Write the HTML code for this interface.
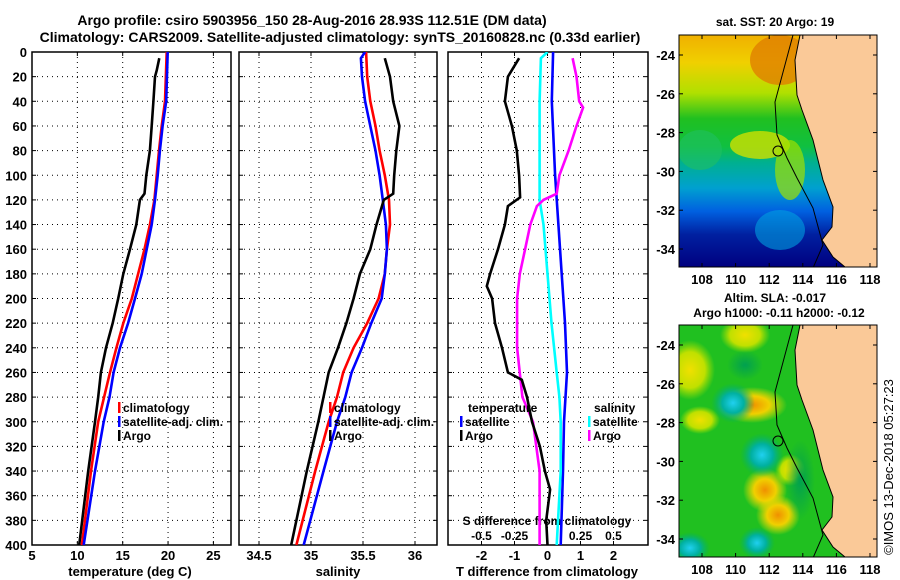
<!DOCTYPE html>
<html><head><meta charset="utf-8">
<style>
html,body{margin:0;padding:0;background:#fff;}
svg{display:block;font-family:"Liberation Sans",sans-serif;font-weight:bold;}
</style></head>
<body>
<svg id="chart" width="900" height="580" viewBox="0 0 900 580" xmlns="http://www.w3.org/2000/svg">
<defs>
<linearGradient id="sstgrad" x1="0" y1="0" x2="0" y2="1">
<stop offset="0" stop-color="#f0b000"/>
<stop offset="0.12" stop-color="#f0d000"/>
<stop offset="0.25" stop-color="#b0e000"/>
<stop offset="0.36" stop-color="#20c020"/>
<stop offset="0.48" stop-color="#10c040"/>
<stop offset="0.55" stop-color="#00b090"/>
<stop offset="0.66" stop-color="#00a0d0"/>
<stop offset="0.76" stop-color="#0060e0"/>
<stop offset="0.86" stop-color="#0020a0"/>
<stop offset="1" stop-color="#000080"/>
</linearGradient>
<radialGradient id="gOr"><stop offset="0" stop-color="#f09000"/><stop offset="0.5" stop-color="#f0d000"/><stop offset="1" stop-color="#f0e000" stop-opacity="0"/></radialGradient>
<radialGradient id="gYe"><stop offset="0" stop-color="#f0e000"/><stop offset="0.6" stop-color="#c0e000"/><stop offset="1" stop-color="#a0e000" stop-opacity="0"/></radialGradient>
<radialGradient id="gCy"><stop offset="0" stop-color="#20d0f0"/><stop offset="0.5" stop-color="#00b0a0"/><stop offset="1" stop-color="#00b060" stop-opacity="0"/></radialGradient>
<radialGradient id="gDg"><stop offset="0" stop-color="#00a050"/><stop offset="1" stop-color="#00a050" stop-opacity="0"/></radialGradient>
<clipPath id="c1"><rect x="32" y="52" width="199" height="493"/></clipPath>
<clipPath id="c2"><rect x="239" y="52" width="198" height="493"/></clipPath>
<clipPath id="c3"><rect x="448" y="52" width="200" height="493"/></clipPath>
<clipPath id="cm1"><rect x="679" y="35" width="198" height="232"/></clipPath>
<clipPath id="cm2"><rect x="679" y="325" width="198" height="232"/></clipPath>
</defs>

<text x="312" y="25" font-size="14" text-anchor="middle">Argo profile: csiro 5903956_150 28-Aug-2016 28.93S 112.51E (DM data)</text>
<text x="340" y="42" font-size="14" text-anchor="middle">Climatology: CARS2009. Satellite-adjusted climatology: synTS_20160828.nc (0.33d earlier)</text>

<g id="maps">
<g clip-path="url(#cm1)">
<rect x="679" y="35" width="198" height="232" fill="url(#sstgrad)"/>
<ellipse cx="780" cy="60" rx="30" ry="25" fill="#e08000" opacity="0.8"/>
<ellipse cx="760" cy="145" rx="30" ry="14" fill="#d0e000" opacity="0.8"/>
<ellipse cx="790" cy="170" rx="15" ry="30" fill="#a0e000" opacity="0.7"/>
<ellipse cx="700" cy="150" rx="22" ry="20" fill="#20c060" opacity="0.6"/>
<ellipse cx="780" cy="230" rx="25" ry="20" fill="#00a0e0" opacity="0.6"/>
<polygon fill="#fac998" points="800,35 795,60 797,95 802,110 813,140 823,180 833,207 832,227 822,240 833,257 845,267 877,267 877,35"/>
<polyline fill="none" stroke="#000" stroke-width="1" points="793,35 775,102 777,135 787,158 797,178 813,208 823,245 813,268"/>
<polyline fill="none" stroke="#000" stroke-width="1" points="800,35 795,60 797,95 802,110 813,140 823,180 833,207 832,227 822,240 833,257 845,267"/>
<circle cx="778" cy="151" r="5" fill="none" stroke="#000" stroke-width="1"/>
</g>
<rect x="679" y="35" width="198" height="232" fill="none" stroke="#000" stroke-width="1"/>
<text x="775" y="26" font-size="12" text-anchor="middle">sat. SST: 20 Argo: 19</text>

<g clip-path="url(#cm2)">
<rect x="679" y="325" width="198" height="232" fill="#20c020"/>
<ellipse cx="690" cy="370" rx="25" ry="30" fill="url(#gYe)"/>
<ellipse cx="745" cy="335" rx="25" ry="18" fill="url(#gYe)"/>
<ellipse cx="752" cy="405" rx="35" ry="18" fill="url(#gOr)"/>
<ellipse cx="700" cy="420" rx="20" ry="14" fill="url(#gYe)"/>
<ellipse cx="790" cy="470" rx="15" ry="16" fill="url(#gYe)"/>
<ellipse cx="765" cy="490" rx="22" ry="22" fill="url(#gOr)"/>
<ellipse cx="778" cy="515" rx="22" ry="20" fill="url(#gOr)"/>
<ellipse cx="733" cy="403" rx="22" ry="20" fill="url(#gCy)"/>
<ellipse cx="762" cy="455" rx="22" ry="22" fill="url(#gCy)"/>
<ellipse cx="757" cy="543" rx="18" ry="16" fill="url(#gCy)"/>
<ellipse cx="690" cy="548" rx="20" ry="16" fill="url(#gCy)"/>
<ellipse cx="800" cy="480" rx="15" ry="40" fill="url(#gDg)"/>
<ellipse cx="745" cy="365" rx="18" ry="15" fill="url(#gDg)"/>
<polygon fill="#fac998" points="800,325 795,350 797,385 802,400 813,430 823,470 833,497 832,517 822,530 833,547 845,557 877,557 877,325"/>
<polyline fill="none" stroke="#000" stroke-width="1" points="793,325 775,392 777,425 787,448 797,468 813,498 823,535 813,558"/>
<polyline fill="none" stroke="#000" stroke-width="1" points="800,325 795,350 797,385 802,400 813,430 823,470 833,497 832,517 822,530 833,547 845,557"/>
<circle cx="778" cy="441" r="5" fill="none" stroke="#000" stroke-width="1"/>
</g>
<rect x="679" y="325" width="198" height="232" fill="none" stroke="#000" stroke-width="1"/>
<text x="775" y="302" font-size="12" text-anchor="middle">Altim. SLA: -0.017</text>
<text x="779" y="317" font-size="12" text-anchor="middle">Argo h1000: -0.11 h2000: -0.12</text>
<text font-size="13" font-weight="normal" text-anchor="middle" transform="translate(893,467) rotate(-90)">©IMOS 13-Dec-2018 05:27:23</text>
</g>
<g id="dyn"></g>
</svg>
<script>
// ---------- data ----------
const depthTicks=[0,20,40,60,80,100,120,140,160,180,200,220,240,260,280,300,320,340,360,380,400];
const tempTicks=[5,10,15,20,25];
const salTicks=[34.5,35,35.5,36];
const tdiffTicks=[-2,-1,0,1,2];
const sdiffTicks=[-0.5,-0.25,0.25,0.5];
const sdiffTickLabels=["-0.5","-0.25","0.25","0.5"];
const lonTicks=[108,110,112,114,116,118];
const latTicks=[-24,-26,-28,-30,-32,-34];

const argoTDepth=[5,15,20,40,60,80,100,115,120,140,160,180,200,220,240,260,280,300,340,400];
const argoTemp=[19.04,18.75,18.56,18.38,18.2,18.0,17.6,17.4,16.9,16.5,15.8,15.07,14.5,13.9,13.16,12.6,12.3,11.95,11.2,10.2];
const climDepth=[0,40,60,80,100,120,140,160,180,200,220,240,260,280,300,340,400];
const climTemp=[19.85,19.66,19.3,19.0,18.75,18.5,18.0,17.4,16.7,16.0,15.07,14.3,13.6,12.95,12.3,11.5,10.5];
const satTemp=[19.96,19.8,19.4,19.1,18.86,18.56,18.2,17.65,17.1,16.36,15.6,14.7,14.0,13.55,12.9,11.95,10.7];

const argoSDepth=[5,20,40,60,80,100,115,120,140,160,180,200,220,240,260,280,300,340,400];
const argoSal=[35.71,35.76,35.79,35.85,35.82,35.8,35.79,35.7,35.63,35.57,35.47,35.41,35.34,35.26,35.17,35.12,35.07,34.96,34.81];
const climSDepth=[0,20,40,60,80,100,120,140,160,180,200,220,240,260,280,300,340,400];
const climSal=[35.53,35.54,35.57,35.62,35.66,35.71,35.75,35.76,35.73,35.71,35.65,35.54,35.41,35.31,35.25,35.17,35.04,34.86];
const satSDepth=[0,5,20,40,60,80,100,120,140,160,180,200,220,240,260,280,300,340,400];
const satSal=[35.52,35.48,35.49,35.52,35.57,35.62,35.66,35.69,35.72,35.73,35.71,35.68,35.58,35.49,35.39,35.33,35.25,35.12,34.93];

const dTDepthArgo=[5,20,40,60,80,100,118,125,140,160,180,190,200,220,240,260,266,280,300,320,340,355,380,400];
const dTArgo=[-0.86,-1.2,-1.29,-1.08,-0.93,-0.86,-0.83,-1.2,-1.29,-1.5,-1.74,-1.84,-1.68,-1.59,-1.38,-1.2,-0.78,-0.62,-0.47,-0.23,-0.08,0.08,-0.04,0];
const dTDepthSat=[0,40,100,140,180,220,260,300,340,400];
const dTSat=[0.17,0.13,0.23,0.33,0.43,0.53,0.59,0.5,0.47,0.4];
const dSDepthSat=[0,5,40,120,140,180,220,260,280,300,340,400];
const dSSat=[0,-0.05,-0.06,-0.06,-0.03,0,0.03,0.07,0.09,0.1,0.1,0.07];
const dSDepthArgo=[5,20,40,45,60,80,100,115,120,125,140,160,180,200,240,280,300,340,370,400];
const dSArgo=[0.19,0.22,0.24,0.27,0.22,0.16,0.09,0.07,-0.03,-0.08,-0.13,-0.17,-0.21,-0.23,-0.23,-0.19,-0.11,-0.06,-0.06,-0.06];

// ---------- axes ----------
const Y0=52,Y1=545;
const yD=d=>Y0+d*(Y1-Y0)/400;
const xT=v=>32+(v-5)*9.07;
const xS=v=>311+(v-35)*104;
const xDT=v=>547.5+v*33;
const xDS=v=>547.5+v*132;
const xLon=v=>702+(v-108)*16.8;
const yLat1=v=>55+(-24-v)*19.4;
const yLat2=v=>345+(-24-v)*19.4;

const NS="http://www.w3.org/2000/svg";
const root=document.getElementById('dyn');
function mk(tag,attrs,parent){const e=document.createElementNS(NS,tag);for(const k in attrs)e.setAttribute(k,attrs[k]);(parent||root).appendChild(e);return e;}
function txt(x,y,s,anchor,size){const t=mk('text',{x:x,y:y,'font-size':size||12,'text-anchor':anchor||'middle'});t.textContent=s;return t;}

const panels=[{x0:32,x1:231,clip:'c1'},{x0:239,x1:437,clip:'c2'},{x0:448,x1:648,clip:'c3'}];
panels.forEach((p,i)=>{
  const g=mk('g',{});
  
  
  depthTicks.forEach((d,k)=>{
    if(k>0&&k<depthTicks.length-1){mk('line',{x1:p.x0,x2:p.x1,y1:yD(d),y2:yD(d),stroke:'#000','stroke-width':1,'stroke-dasharray':'1,4'},g);}
    mk('line',{x1:p.x0,x2:p.x0+4,y1:yD(d),y2:yD(d),stroke:'#000'},g);
    mk('line',{x1:p.x1-4,x2:p.x1,y1:yD(d),y2:yD(d),stroke:'#000'},g);
  });
});
depthTicks.forEach(d=>{
  const t=txt(27,yD(d)+5,String(d),'end',13);
  
  
});
function vgrid(vals,fx,labels,ly){
  vals.forEach((v,i)=>{
    const x=fx(v);
    mk('line',{x1:x,x2:x,y1:Y0,y2:Y1,stroke:'#000','stroke-dasharray':'1,4'});
    mk('line',{x1:x,x2:x,y1:Y1-4,y2:Y1,stroke:'#000'});
    mk('line',{x1:x,x2:x,y1:Y0,y2:Y0+4,stroke:'#000'});
    if(labels){const t=txt(x,ly,labels[i],'middle',13);
      
      }
  });
}
vgrid(tempTicks,xT,tempTicks.map(String),560);
vgrid(salTicks,xS,salTicks.map(String),560);
vgrid(tdiffTicks,xDT,tdiffTicks.map(String),560);
sdiffTicks.forEach((v,i)=>{const t=txt(xDS(v),540,sdiffTickLabels[i],'middle',12);
  
  });
panels.forEach((p,i)=>{
  const r=mk('rect',{x:p.x0,y:Y0,width:p.x1-p.x0,height:Y1-Y0,fill:'none',stroke:'#000','stroke-width':1.5});
  
  
});
let t=txt(130,576,'temperature (deg C)','middle',13);


t=txt(338,576,'salinity','middle',13);


t=txt(547,576,'T difference from climatology','middle',13);


t=txt(547,525,'S difference from climatology','middle',12);



function line(depths,vals,fx,color,clip,name){
  const pts=depths.map((d,i)=>fx(vals[i]).toFixed(1)+','+yD(d).toFixed(1)).join(' ');
  const pl=mk('polyline',{points:pts,fill:'none',stroke:color,'stroke-width':2.6,'clip-path':'url(#'+clip+')'});
  
  
}
line(climDepth,climTemp,xT,'#ff0000','c1','climatology-temperature-line');
line(climDepth,satTemp,xT,'#0000ff','c1','satellite-temperature-line');
line(argoTDepth,argoTemp,xT,'#000000','c1','argo-temperature-line');
line(climSDepth,climSal,xS,'#ff0000','c2','climatology-salinity-line');
line(satSDepth,satSal,xS,'#0000ff','c2','satellite-salinity-line');
line(argoSDepth,argoSal,xS,'#000000','c2','argo-salinity-line');
line(dTDepthSat,dTSat,xDT,'#0000ff','c3','satellite-t-diff-line');
line(dSDepthSat,dSSat,xDS,'#00ffff','c3','satellite-s-diff-line');
line(dSDepthArgo,dSArgo,xDS,'#ff00ff','c3','argo-s-diff-line');
line(dTDepthArgo,dTArgo,xDT,'#000000','c3','argo-t-diff-line');

function legend(x,y,color,label,name){
  const g=mk('g',{});
  
  
  mk('rect',{x:x,y:y-10,width:2.5,height:11,fill:color},g);
  const tt=mk('text',{x:x+5,y:y,'font-size':12},g);tt.textContent=label;
}
legend(118,412,'#ff0000','climatology','legend-climatology-t');
legend(118,426,'#0000ff','satellite-adj. clim.','legend-satellite-t');
legend(118,440,'#000000','Argo','legend-argo-t');
legend(329,412,'#ff0000','climatology','legend-climatology-s');
legend(329,426,'#0000ff','satellite-adj. clim.','legend-satellite-s');
legend(329,440,'#000000','Argo','legend-argo-s');
t=txt(468,412,'temperature','start',12);


legend(460,426,'#0000ff','satellite','legend-satellite-dt');
legend(460,440,'#000000','Argo','legend-argo-dt');
t=txt(594,412,'salinity','start',12);


legend(588,426,'#00ffff','satellite','legend-satellite-ds');
legend(588,440,'#ff00ff','Argo','legend-argo-ds');

[[35,267,yLat1],[325,557,yLat2]].forEach((m)=>{
  lonTicks.forEach(v=>{
    const x=xLon(v);
    mk('line',{x1:x,x2:x,y1:m[1],y2:m[1]-4,stroke:'#000'});
    mk('line',{x1:x,x2:x,y1:m[0],y2:m[0]+4,stroke:'#000'});
    const tl=txt(x,m[1]+17,String(v),'middle',13);
    
    
  });
  latTicks.forEach(v=>{
    const y=m[2](v);
    mk('line',{x1:679,x2:683,y1:y,y2:y,stroke:'#000'});
    mk('line',{x1:877,x2:873,y1:y,y2:y,stroke:'#000'});
    const tl=txt(675,y+5,String(v),'end',13);
    
    
  });
});
</script>
</body></html>
